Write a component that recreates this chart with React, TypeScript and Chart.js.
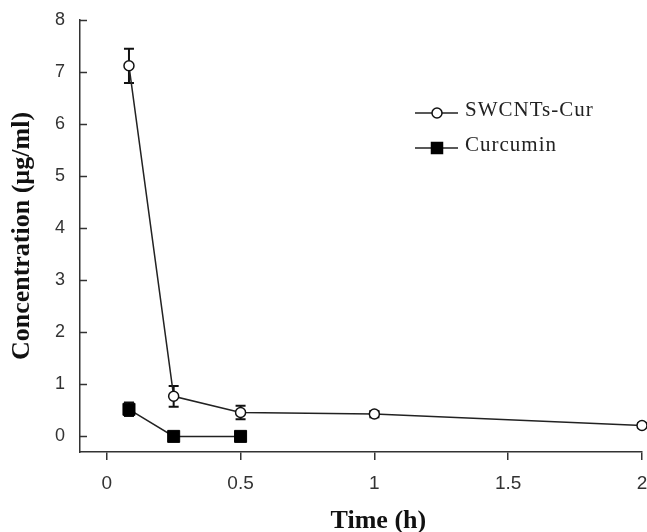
import React, { useEffect, useRef } from "react";
import { Chart, registerables } from "chart.js";

Chart.register(...registerables);

const timeSWCNT = [0.083, 0.25, 0.5, 1, 2];
const concSWCNT = [7.12, 0.77, 0.46, 0.43, 0.21];
const errSWCNT = [0.33, 0.2, 0.13, 0.06, 0.04];

const timeCur = [0.083, 0.25, 0.5];
const concCur = [0.52, 0.0, 0.0];
const errCur = [0.13, 0.02, 0.02];

const xTicks = [0, 0.5, 1, 1.5, 2];
const xTickLabels = ["0", "0.5", "1", "1.5", "2"];
const yTicks = [0, 1, 2, 3, 4, 5, 6, 7, 8];

const seriesNames = ["SWCNTs-Cur", "Curcumin"];
const xTitle = "Time (h)";
const yTitle = "Concentration (µg/ml)";

const AXIS = "#333333";

const errorBarPlugin = {
  id: "errorBars",
  beforeDatasetsDraw(chart: any) {
    const ctx = chart.ctx;
    const y = chart.scales.y;
    chart.data.datasets.forEach((ds: any, di: number) => {
      const meta = chart.getDatasetMeta(di);
      const errs: number[] = ds.errors || [];
      ctx.save();
      ctx.strokeStyle = "#111";
      ctx.lineWidth = 2;
      meta.data.forEach((pt: any, i: number) => {
        const v = ds.data[i].y;
        const e = errs[i] || 0;
        if (!e) return;
        const px = pt.x;
        const top = y.getPixelForValue(v + e);
        const bot = y.getPixelForValue(v - e);
        ctx.beginPath();
        ctx.moveTo(px, top);
        ctx.lineTo(px, bot);
        ctx.moveTo(px - 5, top);
        ctx.lineTo(px + 5, top);
        ctx.moveTo(px - 5, bot);
        ctx.lineTo(px + 5, bot);
        ctx.stroke();
      });
      ctx.restore();
    });
  },
};

const innerYTicksPlugin = {
  id: "innerYTicks",
  afterDraw(chart: any) {
    const ctx = chart.ctx;
    const y = chart.scales.y;
    const left = chart.chartArea.left;
    ctx.save();
    ctx.strokeStyle = AXIS;
    ctx.lineWidth = 1.5;
    yTicks.forEach((t) => {
      const py = Math.round(y.getPixelForValue(t)) + 0.5;
      ctx.beginPath();
      ctx.moveTo(left, py);
      ctx.lineTo(left + 7, py);
      ctx.stroke();
    });
    ctx.restore();
  },
};

const xTitlePlugin = {
  id: "xTitle",
  afterDraw(chart: any) {
    const ctx = chart.ctx;
    ctx.save();
    ctx.fillStyle = "#111";
    ctx.font = "bold 26px 'Liberation Serif'";
    ctx.textAlign = "center";
    ctx.textBaseline = "alphabetic";
    const x = chart.scales.x;
    ctx.fillText(xTitle, x.getPixelForValue(1.015), 528);
    ctx.restore();
  },
};

const legendPlugin = {
  id: "customLegend",
  afterDraw(chart: any) {
    const ctx = chart.ctx;
    ctx.save();
    chart.data.datasets.forEach((ds: any, i: number) => {
      const cy = 113 + i * 35;
      const x0 = 415;
      const x1 = 458;
      const cx = 437;
      ctx.strokeStyle = "#222";
      ctx.lineWidth = 1.5;
      ctx.beginPath();
      ctx.moveTo(x0, cy);
      ctx.lineTo(x1, cy);
      ctx.stroke();
      ctx.fillStyle = ds.pointBackgroundColor;
      ctx.strokeStyle = ds.pointBorderColor;
      ctx.lineWidth = 1.5;
      ctx.beginPath();
      if (ds.pointStyle === "rect") {
        ctx.rect(cx - 5.5, cy - 5.5, 11, 11);
      } else {
        ctx.arc(cx, cy, 5, 0, Math.PI * 2);
      }
      ctx.fill();
      ctx.stroke();
      ctx.fillStyle = "#222";
      ctx.font = "21px 'Liberation Serif'";
      (ctx as any).letterSpacing = "1px";
      ctx.textBaseline = "middle";
      ctx.textAlign = "left";
      ctx.fillText(ds.label, 465, cy - 3);
      (ctx as any).letterSpacing = "0px";
    });
    ctx.restore();
  },
};

export default function App() {
  const ref = useRef<HTMLCanvasElement>(null);
  useEffect(() => {
    document.body.style.margin = "0";
    const chart = new Chart(ref.current as HTMLCanvasElement, {
      type: "line",
      data: {
        datasets: [
          {
            label: seriesNames[0],
            data: timeSWCNT.map((t, i) => ({ x: t, y: concSWCNT[i] })),
            errors: errSWCNT,
            borderColor: "#222",
            borderWidth: 1.5,
            pointStyle: "circle",
            pointRadius: 5,
            pointBackgroundColor: "#ffffff",
            pointBorderColor: "#111",
            pointBorderWidth: 1.5,
            clip: false,
          } as any,
          {
            label: seriesNames[1],
            data: timeCur.map((t, i) => ({ x: t, y: concCur[i] })),
            errors: errCur,
            borderColor: "#222",
            borderWidth: 1.5,
            pointStyle: "rect",
            pointRadius: 8.5,
            pointBackgroundColor: "#000000",
            pointBorderColor: "#000000",
            pointBorderWidth: 1,
            clip: false,
          } as any,
        ],
      },
      options: {
        animation: false,
        responsive: false,
        maintainAspectRatio: false,
        layout: { autoPadding: false, padding: { top: 20, right: 5, left: 0, bottom: 0 } },
        plugins: {
          legend: { display: false },
          tooltip: { enabled: false },
        },
        scales: {
          x: {
            type: "linear",
            min: -0.1,
            max: 2,
            afterBuildTicks: (s: any) => {
              s.ticks = xTicks.map((v) => ({ value: v }));
            },
            afterFit: (s: any) => {
              s.height = 80;
              s.paddingRight = 0;
              s.paddingLeft = 0;
            },
            ticks: {
              color: "#333",
              font: { family: "'Liberation Sans'", size: 19 },
              padding: 12,
              maxRotation: 0,
              callback: (v: any) => {
                const idx = xTicks.indexOf(Number(v));
                return idx >= 0 ? xTickLabels[idx] : "";
              },
            },
            grid: {
              drawOnChartArea: false,
              drawTicks: true,
              tickLength: 8,
              color: AXIS,
              lineWidth: 1.5,
            },
            border: { display: true, color: AXIS, width: 1.5 },
            title: { display: false },
          },
          y: {
            type: "linear",
            min: -0.3,
            max: 8,
            afterBuildTicks: (s: any) => {
              s.ticks = yTicks.map((v) => ({ value: v }));
            },
            afterFit: (s: any) => {
              s.width = 80;
              s.paddingTop = 0;
              s.paddingBottom = 0;
            },
            ticks: {
              color: "#333",
              font: { family: "'Liberation Sans'", size: 18 },
              padding: 15,
            },
            grid: {
              drawOnChartArea: false,
              drawTicks: false,
            },
            border: { display: true, color: AXIS, width: 1.5 },
            title: {
              display: true,
              text: yTitle,
              color: "#111",
              font: { family: "'Liberation Serif'", size: 26, weight: "bold" },
              padding: { top: 7, bottom: 0 },
            },
          },
        },
      },
      plugins: [errorBarPlugin, innerYTicksPlugin, xTitlePlugin, legendPlugin],
    });
    return () => chart.destroy();
  }, []);
  return <canvas ref={ref} width={647} height={532} style={{ display: "block" }} />;
}
